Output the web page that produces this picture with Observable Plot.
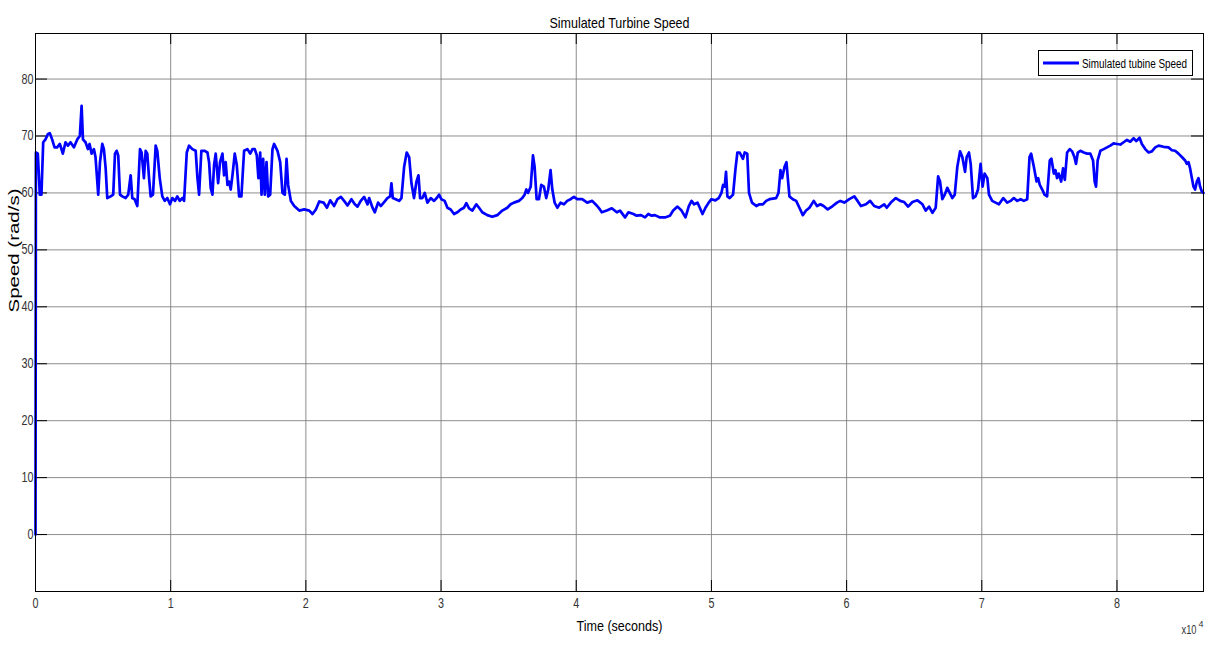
<!DOCTYPE html>
<html><head><meta charset="utf-8">
<script src="https://cdn.jsdelivr.net/npm/d3@7"></script>
<script src="https://cdn.jsdelivr.net/npm/@observablehq/plot@0.6"></script>
<style>
body{margin:0;background:#fff;}
#chart{position:relative;width:1216px;height:646px;overflow:hidden;}
#legend{position:absolute;left:1038px;top:50px;overflow:visible;}
</style></head><body><div id="chart"></div>
<script>
// time in units of 10^4 seconds
const timeE4 = [0,0.003,0.017,0.032,0.044,0.057,0.074,0.091,0.106,0.123,0.141,0.160,0.180,0.202,0.222,0.240,0.259,0.284,0.309,0.328,0.341,0.351,0.370,0.388,0.400,0.415,0.432,0.444,0.464,0.477,0.494,0.506,0.519,0.531,0.556,0.575,0.588,0.600,0.612,0.625,0.642,0.667,0.686,0.704,0.716,0.733,0.753,0.773,0.785,0.802,0.815,0.827,0.840,0.852,0.869,0.889,0.901,0.919,0.938,0.956,0.975,0.995,1.012,1.032,1.049,1.067,1.086,1.099,1.119,1.136,1.160,1.185,1.198,1.210,1.227,1.252,1.272,1.284,1.296,1.309,1.321,1.333,1.351,1.365,1.383,1.395,1.407,1.420,1.432,1.444,1.457,1.474,1.489,1.506,1.523,1.543,1.568,1.588,1.605,1.622,1.637,1.649,1.662,1.672,1.684,1.696,1.709,1.721,1.736,1.753,1.765,1.790,1.810,1.827,1.844,1.857,1.869,1.889,1.914,1.951,1.988,2.025,2.049,2.074,2.099,2.131,2.156,2.180,
2.209,2.234,2.259,2.283,2.308,2.337,2.362,2.382,2.406,2.431,2.456,2.468,2.493,2.510,2.534,2.554,2.579,2.603,2.623,2.633,2.643,2.665,2.690,2.707,2.727,2.746,2.764,2.781,2.800,2.818,2.833,2.845,2.862,2.879,2.899,2.924,2.948,2.968,2.985,3.002,3.027,3.047,3.071,3.096,3.121,3.145,3.170,3.187,3.207,3.232,3.261,3.281,3.305,3.342,3.379,3.416,3.453,3.490,3.515,3.539,3.576,3.601,3.618,3.631,3.643,3.663,3.680,3.692,3.707,3.724,3.741,3.761,3.778,3.793,3.810,3.823,3.840,3.860,3.884,3.909,3.933,3.958,3.983,4.007,4.044,4.081,4.118,4.155,4.175,
4.189,4.226,4.263,4.300,4.324,4.361,4.386,4.423,4.447,4.479,4.509,4.533,4.558,4.582,4.619,4.656,4.693,4.717,4.749,4.779,4.808,4.833,4.853,4.872,4.897,4.914,4.934,4.956,4.980,5.000,5.029,5.054,5.074,5.086,5.098,5.108,5.118,5.135,5.160,5.177,5.192,5.209,5.233,5.246,5.265,5.278,5.300,5.332,5.356,5.381,5.405,5.430,5.455,5.479,5.496,5.511,5.523,5.541,5.555,5.565,5.577,5.602,5.627,5.651,5.676,5.700,5.725,5.757,5.781,5.806,5.830,5.860,5.897,5.929,5.953,5.983,6.020,6.057,6.081,6.106,6.143,6.174,6.204,6.241,6.278,6.297,6.327,6.364,6.396,
6.426,6.455,6.487,6.524,6.561,6.585,6.610,6.635,6.659,6.677,6.691,6.708,6.726,6.745,6.763,6.782,6.800,6.819,6.839,6.856,6.876,6.888,6.905,6.918,6.935,6.954,6.972,6.991,7.006,7.021,7.041,7.053,7.077,7.102,7.127,7.159,7.188,7.213,7.237,7.262,7.287,7.311,7.336,7.353,7.365,7.385,7.405,7.417,7.429,7.447,7.464,7.483,7.503,7.515,7.533,7.545,7.557,7.569,7.587,7.601,7.614,7.631,7.651,7.668,7.685,7.697,7.710,7.729,7.754,7.779,7.803,7.823,7.835,7.845,7.857,7.877,7.902,7.926,7.951,7.975,8.000,8.025,8.049,8.074,8.098,8.123,8.143,8.167,8.184,8.209,8.234,8.258,8.283,8.308,8.344,8.381,8.406,8.430,8.455,8.480,8.504,8.517,8.529,8.541,8.554,8.566,8.578,8.591,8.603,8.615,8.627,8.640];
const speed = [0,67.1,66.9,59.7,59.7,68.9,69.4,70.3,70.5,69.4,68.0,68.0,68.6,66.9,68.9,68.3,68.9,68.0,69.4,70.0,75.3,69.4,68.9,67.7,68.6,66.9,67.7,66.3,59.7,65.4,68.6,67.7,64.3,59.1,59.4,59.7,66.9,67.4,66.6,59.7,59.4,59.1,59.7,63.1,59.1,58.9,57.7,67.7,67.1,62.6,67.4,66.9,62.6,59.4,59.7,68.3,67.4,62.6,59.4,58.6,59.1,58.0,59.1,58.6,59.4,58.6,59.1,58.6,67.1,68.3,67.7,67.4,62.6,59.7,67.4,67.4,67.1,65.4,60.9,59.7,64.9,66.9,61.7,65.4,66.9,63.1,65.4,61.4,62.0,60.6,63.1,66.9,64.9,59.4,59.4,67.4,67.7,66.9,67.7,67.7,66.6,62.6,67.1,59.7,66.0,59.7,65.4,59.4,59.7,67.7,68.6,67.4,65.4,60.0,59.7,66.0,61.4,58.6,57.7,56.9,57.1,56.9,56.3,57.1,58.5,58.3,57.4,58.7,
57.7,58.9,59.3,58.6,57.8,58.9,58.0,57.6,58.6,59.3,58.0,59.1,57.4,56.6,58.3,57.7,58.4,59.1,59.4,61.7,59.1,58.9,58.6,59.1,64.6,67.1,66.3,61.7,59.1,62.0,63.1,59.1,59.1,60.0,58.3,59.1,58.6,59.1,59.7,58.9,58.6,57.4,57.1,56.3,56.6,57.1,57.4,58.2,57.3,56.9,58.0,57.4,56.6,56.1,55.8,56.1,56.9,57.4,58.0,58.3,58.6,59.1,59.7,60.6,60.0,61.1,66.6,64.6,58.9,58.9,61.4,61.1,59.1,60.6,64.0,60.6,58.3,57.4,58.3,58.0,58.6,58.9,59.3,58.9,58.9,58.3,58.6,57.7,57.1,
56.6,56.9,57.3,56.6,56.9,55.7,56.6,56.3,56.0,56.1,55.7,56.3,56.0,56.1,55.7,55.7,56.0,56.9,57.6,56.9,55.7,57.7,58.6,58.0,58.3,57.4,56.3,57.4,58.3,58.9,58.7,59.1,60.0,61.4,61.1,63.7,59.4,59.1,59.7,64.0,67.1,67.1,66.0,67.1,66.9,60.0,58.3,57.7,58.0,58.0,58.6,58.9,59.0,59.1,60.0,64.0,62.6,64.6,65.4,62.6,59.4,58.9,58.6,57.4,56.1,56.9,57.4,58.6,57.7,58.0,57.7,57.1,57.7,58.3,58.6,58.3,58.9,59.4,58.6,57.7,58.0,58.6,57.7,57.4,58.0,57.4,58.3,59.1,58.6,
58.4,57.6,58.4,58.7,58.0,56.9,57.6,56.5,57.4,62.9,62.0,58.9,59.7,60.9,60.0,59.1,59.7,64.6,67.3,66.3,63.7,66.3,67.1,65.1,59.1,59.4,60.6,65.1,61.1,63.4,62.6,59.7,58.6,58.3,58.0,59.1,58.3,58.6,59.1,58.6,58.9,58.6,58.9,66.3,66.9,64.6,62.0,62.6,61.4,60.6,59.7,59.4,65.7,66.0,63.4,64.0,62.6,63.4,62.0,64.3,62.3,67.1,67.7,67.3,66.3,65.1,67.1,67.4,67.1,66.9,66.9,65.7,62.0,61.1,65.7,67.4,67.7,68.0,68.3,68.7,68.6,68.5,68.9,69.3,69.0,69.6,69.1,69.7,68.6,67.7,67.1,67.3,68.0,68.3,68.1,68.0,67.5,67.4,66.9,66.3,65.7,65.1,65.4,64.3,62.6,61.1,60.6,62.0,62.6,61.1,60.3,60.0];

const xTicks = [0,1,2,3,4,5,6,7,8];
const yTicks = [0,10,20,30,40,50,60,70,80];
const titleText = "Simulated Turbine Speed";
const xLabel = "Time (seconds)";
const yLabel = "Speed (rad/s)";
const xExponentBase = "x10";
const xExponent = "4";
const legendLabel = "Simulated tubine Speed";

const data = timeE4.map((t, i) => ({t, v: speed[i]}));
const sans = "'Liberation Sans',Arial,sans-serif";

const plot = Plot.plot({
  width: 1216, height: 646,
  marginLeft: 35, marginRight: 13, marginTop: 33, marginBottom: 55,
  style: {fontFamily: sans, fontSize: "14px", color: "#333", background: "#fff"},
  x: {domain: [0, 8.64], label: null},
  y: {domain: [-10, 88], label: null},
  marks: [
    Plot.gridX(xTicks, {stroke: "#7a7a7a", strokeOpacity: 0.85}),
    Plot.gridY(yTicks, {stroke: "#7a7a7a", strokeOpacity: 0.85}),
    Plot.tickY(yTicks, {y: d => d, insetRight: 1156, stroke: "#000"}),
    Plot.tickY(yTicks, {y: d => d, insetLeft: 1156, stroke: "#000"}),
    Plot.tickX(xTicks, {x: d => d, insetTop: 547, stroke: "#000"}),
    Plot.tickX(xTicks, {x: d => d, insetBottom: 547, stroke: "#000"}),
    Plot.axisX(xTicks, {tickSize: 0, tickPadding: 7, tickFormat: d => String(d), fill: "#333", fontSize: 14, className: "tl"}),
    Plot.axisY(yTicks, {tickSize: 0, tickPadding: 2, tickFormat: d => String(d), fill: "#333", fontSize: 14, className: "tl"}),
    Plot.line(data, {x: "t", y: "v", stroke: "#0000ff", strokeWidth: 2.7}),
    Plot.frame({stroke: "#000"}),
    Plot.text([titleText], {frameAnchor: "top", dy: -16, fontSize: 15, fill: "#000", className: "ttl"}),
    Plot.text([xLabel], {frameAnchor: "bottom", dy: 39, fontSize: 15, fill: "#000", className: "xlab"}),
    Plot.text([xExponentBase], {frameAnchor: "bottom-right", dx: -7, dy: 42, fontSize: 12, textAnchor: "end", fill: "#333", className: "xexp"}),
    Plot.text([xExponent], {frameAnchor: "bottom-right", dx: 0, dy: 35, fontSize: 9, textAnchor: "end", fill: "#333"}),
    Plot.text([yLabel], {frameAnchor: "left", dx: -21, rotate: -90, fontSize: 15, fill: "#000", className: "ylab"})
  ]
});

const chart = document.getElementById("chart");
chart.appendChild(plot);
const svg = d3.select(plot);
const squeeze = (sel, len) => sel.attr("textLength", len).attr("lengthAdjust", "spacingAndGlyphs");
squeeze(svg.selectAll(".ttl text"), 140);
squeeze(svg.selectAll(".xlab text"), 86);
squeeze(svg.selectAll(".xexp text"), 15);
squeeze(svg.selectAll(".ylab text"), 124);
svg.selectAll(".tl text").each(function() {
  const n = this.textContent.length;
  squeeze(d3.select(this), n * 6);
});

// legend box
const lg = d3.select(chart).append("svg").attr("id", "legend").attr("width", 170).attr("height", 27);
lg.append("rect").attr("x", 0.5).attr("y", 0.5).attr("width", 154).attr("height", 25).attr("fill", "#fff").attr("stroke", "#000");
lg.append("line").attr("x1", 5).attr("x2", 41).attr("y1", 13).attr("y2", 13).attr("stroke", "#0000ff").attr("stroke-width", 3);
squeeze(lg.append("text").attr("x", 44).attr("y", 17.5).attr("font-family", sans).attr("font-size", 12).attr("fill", "#000").text(legendLabel), 105);
</script>
</body></html>
